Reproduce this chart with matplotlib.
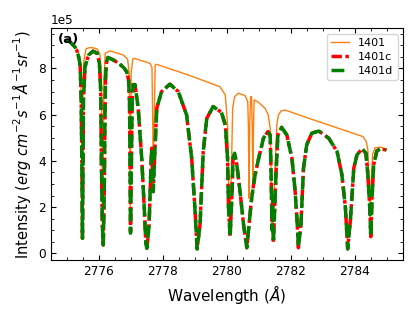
import numpy as np
import matplotlib
matplotlib.use('Agg')
import matplotlib.pyplot as plt
from matplotlib.ticker import MultipleLocator

# model 1401 (narrow lines), values in units of 1e5
wl_1401 = [2774.99, 2775.10, 2775.25, 2775.31, 2775.38, 2775.43, 2775.46, 2775.48, 2775.50, 2775.53,
           2775.60, 2775.70, 2775.80, 2775.95, 2776.04, 2776.08, 2776.12, 2776.16, 2776.20, 2776.35,
           2776.77, 2776.90, 2776.95, 2776.98, 2777.01, 2777.06, 2777.10, 2777.60, 2777.66, 2777.69,
           2777.70, 2777.72, 2777.76, 2777.80, 2778.79, 2779.78, 2779.88, 2779.95, 2780.02, 2780.06,
           2780.09, 2780.13, 2780.18, 2780.24, 2780.36, 2780.57, 2780.65, 2780.67, 2780.69, 2780.71,
           2780.74, 2780.77, 2780.79, 2780.81, 2780.83, 2780.85, 2780.98, 2781.19, 2781.29, 2781.35,
           2781.38, 2781.41, 2781.45, 2781.50, 2781.56, 2781.61, 2781.69, 2781.82, 2782.56, 2784.25,
           2784.35, 2784.40, 2784.44, 2784.47, 2784.50, 2784.55, 2784.63, 2784.82, 2784.98]
int_1401 = [9.23, 9.15, 8.94, 8.82, 8.60, 8.20, 6.00, 1.50, 6.00, 8.30,
            8.85, 8.90, 8.90, 8.84, 8.60, 7.50, 1.00, 7.50, 8.66, 8.76,
            8.58, 8.40, 7.80, 1.50, 7.80, 8.40, 8.44, 8.22, 8.05, 5.00,
            2.70, 5.00, 8.15, 8.18, 7.72, 7.21, 7.00, 6.85, 5.55, 2.50,
            1.20, 3.00, 6.28, 6.78, 6.93, 6.82, 6.56, 5.50, 2.38, 5.50,
            6.78, 6.78, 5.50, 3.10, 5.50, 6.64, 6.54, 6.28, 5.99, 5.41,
            3.50, 1.00, 1.50, 3.50, 5.60, 5.99, 6.16, 6.20, 5.84, 5.05,
            4.83, 4.47, 3.00, 1.20, 3.00, 4.30, 4.57, 4.59, 4.47]

# models 1401c / 1401d (broad wings, identical)
wl_1401c = [2774.99, 2775.10, 2775.25, 2775.31, 2775.38, 2775.42, 2775.45, 2775.47, 2775.49, 2775.51,
            2775.52, 2775.57, 2775.68, 2775.82, 2775.95, 2776.02, 2776.06, 2776.08, 2776.11, 2776.14,
            2776.17, 2776.19, 2776.21, 2776.24, 2776.28, 2776.45, 2776.65, 2776.80, 2776.87, 2776.93,
            2776.96, 2776.98, 2776.99, 2777.01, 2777.04, 2777.07, 2777.13, 2777.23, 2777.34, 2777.42,
            2777.47, 2777.50, 2777.53, 2777.57, 2777.62, 2777.65, 2777.70, 2777.75, 2777.81, 2777.96,
            2778.22, 2778.48, 2778.74, 2778.90, 2779.00, 2779.07, 2779.16, 2779.26, 2779.37, 2779.57,
            2779.83, 2779.95, 2780.02, 2780.05, 2780.10, 2780.16, 2780.19, 2780.24, 2780.31, 2780.41,
            2780.52, 2780.62, 2780.69, 2780.76, 2780.83, 2780.88, 2780.99, 2781.14, 2781.28, 2781.35,
            2781.38, 2781.41, 2781.43, 2781.45, 2781.48, 2781.53, 2781.59, 2781.71, 2781.87, 2782.03,
            2782.13, 2782.21, 2782.23, 2782.31, 2782.39, 2782.49, 2782.65, 2782.87, 2783.18, 2783.44,
            2783.59, 2783.70, 2783.77, 2783.86, 2783.96, 2784.06, 2784.22, 2784.34, 2784.40, 2784.46,
            2784.49, 2784.53, 2784.58, 2784.68, 2784.79, 2784.98]
int_1401c = [9.23, 9.15, 8.94, 8.80, 8.45, 8.08, 6.64, 4.00, 0.65, 4.00,
             6.64, 8.08, 8.58, 8.75, 8.66, 8.20, 7.00, 4.10, 1.23, 0.36,
             2.67, 5.55, 7.58, 8.25, 8.48, 8.37, 8.20, 8.00, 7.86, 7.50,
             6.50, 3.00, 0.87, 3.00, 6.50, 7.30, 7.30, 6.28, 4.11, 1.95,
             0.40, 0.22, 0.60, 1.23, 3.39, 4.55, 2.67, 4.40, 6.28, 7.00,
             7.32, 7.00, 5.99, 4.11, 1.95, 0.19, 1.23, 4.40, 5.84, 6.35,
             6.10, 5.55, 4.11, 1.95, 0.72, 2.67, 4.11, 4.33, 3.82, 2.67,
             1.23, 0.24, 1.23, 2.23, 2.96, 3.39, 4.11, 4.98, 5.27, 5.12,
             3.39, 1.00, 2.50, 0.45, 1.50, 3.39, 5.12, 5.45, 5.12, 4.11,
             2.67, 0.94, 0.24, 1.23, 3.68, 4.69, 5.20, 5.29, 4.98, 4.40,
             3.39, 1.95, 0.19, 1.52, 3.68, 4.26, 4.52, 4.33, 3.39, 1.95,
             0.72, 2.38, 3.82, 4.43, 4.52, 4.47]
int_1401d = list(int_1401c)

fig = plt.figure(figsize=(4.16, 3.14), dpi=100)
ax = fig.add_axes([0.122, 0.172, 0.847, 0.738])

ax.plot(wl_1401, np.array(int_1401) * 1e5, color='tab:orange', lw=1, label='1401')
ax.plot(wl_1401c, np.array(int_1401c) * 1e5, color='red', lw=2.5,
        ls=(0, (3, 1, 1, 1, 1, 1)), label='1401c')
ax.plot(wl_1401c, np.array(int_1401d) * 1e5, color='green', lw=2.5, ls='--', label='1401d')

ax.set_xlim(2774.5, 2785.5)
ax.set_ylim(-0.29e5, 9.74e5)
ax.ticklabel_format(axis='y', style='sci', scilimits=(0, 0), useMathText=False)
ax.xaxis.set_major_locator(MultipleLocator(2))
ax.xaxis.set_minor_locator(MultipleLocator(0.5))
ax.yaxis.set_major_locator(MultipleLocator(2e5))
ax.yaxis.set_minor_locator(MultipleLocator(0.5e5))
ax.tick_params(which='both', direction='in', top=True, right=True, labelsize=8.7)

ax.set_xlabel(r'Wavelength ($\AA$)', fontsize=11)
ax.set_ylabel(r'Intensity ($erg\ cm^{-2}s^{-1}\AA^{-1}sr^{-1}$)', fontsize=10.5)
ax.yaxis.get_offset_text().set_fontsize(8.7)
ax.text(0.02, 0.95, '(a)', transform=ax.transAxes, fontweight='bold', fontsize=9.5, va='center')
ax.legend(loc='upper right', fontsize=8, handlelength=1.6, labelspacing=0.35)

fig.savefig('out.png', dpi=100)
